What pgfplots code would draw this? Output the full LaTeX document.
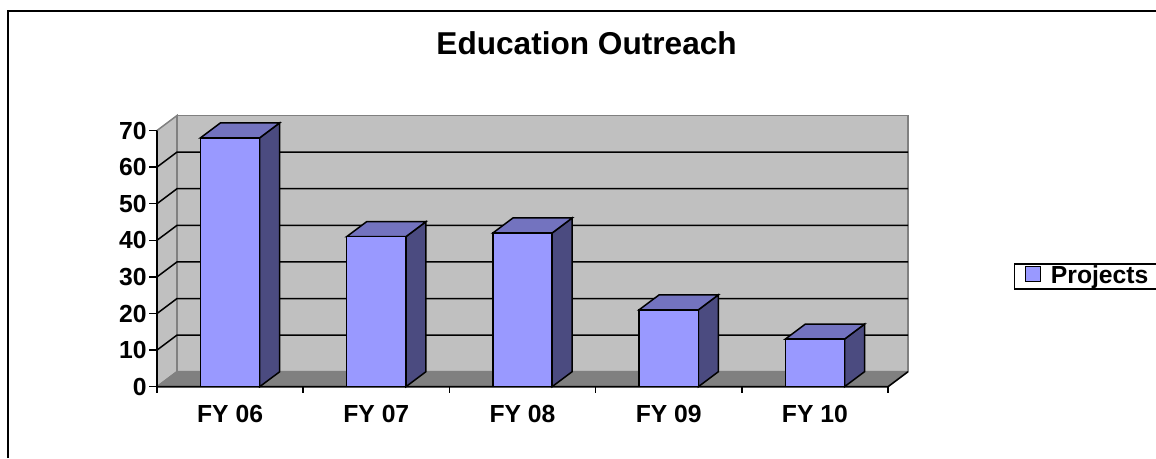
\documentclass[border=0pt]{standalone}
\usepackage{pgfplots}
\pgfplotsset{compat=1.18}
\usepackage{fontspec}
\setmainfont{Liberation Sans}
\definecolor{wall}{HTML}{C0C0C0}
\definecolor{floorc}{HTML}{808080}
\definecolor{edge}{HTML}{808080}
\definecolor{barfront}{HTML}{9999FF}
\definecolor{bartop}{HTML}{7373BF}
\definecolor{barside}{HTML}{4B4B80}
\begin{document}
\begin{tikzpicture}
\useasboundingbox (0,0) rectangle (1156pt,-458pt);
\draw[black, line width=1.6pt] (8pt,-458pt) -- (8pt,-10.7pt) -- (1156pt,-10.7pt);
\begin{axis}[
  at={(157pt,-386.7pt)}, anchor=south west,
  x=146.2pt, y=3.66pt,
  xmin=-0.5, xmax=4.637, ymin=0, ymax=74.1,
  clip=false,
  axis line style={draw=none},
  major tick length=0pt,
  /pgf/number format/assume math mode=true,
  xtick={0,1,2,3,4},
  xticklabels={FY 06,FY 07,FY 08,FY 09,FY 10},
  ytick={0,10,...,70},
  xtick pos=bottom, ytick pos=left,
  tick label style={font=\fontsize{24.7}{28}\selectfont\bfseries},
  xticklabel style={anchor=base, inner sep=0pt, yshift=-36pt},
  yticklabel style={anchor=east, inner sep=0pt, xshift=-10.3pt},
  title={Education Outreach},
  title style={font=\fontsize{31.6}{36}\selectfont\bfseries, at={(axis description cs:0.572,1.201)}, anchor=base, inner sep=0pt},
  legend style={at={(axis description cs:1.141,0.455)}, anchor=north west, draw=black, line width=1.4pt, fill=white,
     inner xsep=10pt, inner ysep=0pt, font=\fontsize{24.7}{28}\selectfont\bfseries,
     nodes={inner sep=0pt, text height=19.7pt, text depth=5.3pt}, /tikz/column sep=10pt},
  legend cell align=left,
  legend image code/.code={\draw[fill=barfront, draw=black, line width=1.3pt] (0pt,-5.3pt) rectangle (15pt,9.7pt);},
]
% left side wall
\addplot[fill=wall, draw=edge, line width=1.5pt, forget plot] coordinates {(-0.5,0) (-0.363,4.1) (-0.363,74.1) (-0.5,70)} -- cycle;
% back wall
\addplot[fill=wall, draw=edge, line width=1.5pt, forget plot] coordinates {(-0.363,4.1) (4.637,4.1) (4.637,74.1) (-0.363,74.1)} -- cycle;
% floor
\addplot[fill=floorc, draw=none, forget plot] coordinates {(-0.5,0) (4.5,0) (4.637,4.1) (-0.363,4.1)} -- cycle;
\addplot[draw=edge, line width=1.5pt, forget plot] coordinates {(-0.5,0) (-0.363,4.1) (4.637,4.1)};
% gridlines
\pgfplotsinvokeforeach{10,20,30,40,50,60}{
  \addplot[black, line width=1.5pt, forget plot] coordinates {(-0.5,#1) (-0.363,#1+4.1) (4.637,#1+4.1)};
}
% front axes
\addplot[black, line width=1.6pt, forget plot] coordinates {(-0.5,70) (-0.5,0) (4.5,0) (4.637,4.1)};
% tick marks
\pgfplotsinvokeforeach{0,10,20,30,40,50,60,70}{
  \addplot[black, line width=1.5pt, forget plot] coordinates {(-0.5527,#1) (-0.5,#1)};
}
\pgfplotsinvokeforeach{-0.5,0.5,1.5,2.5,3.5,4.5}{
  \addplot[black, line width=1.5pt, forget plot] coordinates {(#1,0) (#1,-1.8)};
}
% bar sides and tops (depth offset 0.137, 4.1)
\addplot[fill=barside, draw=black, line width=1.5pt, forget plot] coordinates {(0.2025,0) (0.3395,4.1) (0.3395,72.1) (0.2025,68)} -- cycle;
\addplot[fill=bartop, draw=black, line width=1.5pt, forget plot] coordinates {(-0.2025,68) (0.2025,68) (0.3395,72.1) (-0.0655,72.1)} -- cycle;
\addplot[fill=barside, draw=black, line width=1.5pt, forget plot] coordinates {(1.2025,0) (1.3395,4.1) (1.3395,45.1) (1.2025,41)} -- cycle;
\addplot[fill=bartop, draw=black, line width=1.5pt, forget plot] coordinates {(0.7975,41) (1.2025,41) (1.3395,45.1) (0.9345,45.1)} -- cycle;
\addplot[fill=barside, draw=black, line width=1.5pt, forget plot] coordinates {(2.2025,0) (2.3395,4.1) (2.3395,46.1) (2.2025,42)} -- cycle;
\addplot[fill=bartop, draw=black, line width=1.5pt, forget plot] coordinates {(1.7975,42) (2.2025,42) (2.3395,46.1) (1.9345,46.1)} -- cycle;
\addplot[fill=barside, draw=black, line width=1.5pt, forget plot] coordinates {(3.2025,0) (3.3395,4.1) (3.3395,25.1) (3.2025,21)} -- cycle;
\addplot[fill=bartop, draw=black, line width=1.5pt, forget plot] coordinates {(2.7975,21) (3.2025,21) (3.3395,25.1) (2.9345,25.1)} -- cycle;
\addplot[fill=barside, draw=black, line width=1.5pt, forget plot] coordinates {(4.2025,0) (4.3395,4.1) (4.3395,17.1) (4.2025,13)} -- cycle;
\addplot[fill=bartop, draw=black, line width=1.5pt, forget plot] coordinates {(3.7975,13) (4.2025,13) (4.3395,17.1) (3.9345,17.1)} -- cycle;
% bar fronts
\addplot[ybar, bar width=0.405, bar shift=0pt, fill=barfront, draw=black, line width=1.5pt] coordinates {(0,68) (1,41) (2,42) (3,21) (4,13)};
\addlegendentry{Projects}
\end{axis}
\end{tikzpicture}
\end{document}
